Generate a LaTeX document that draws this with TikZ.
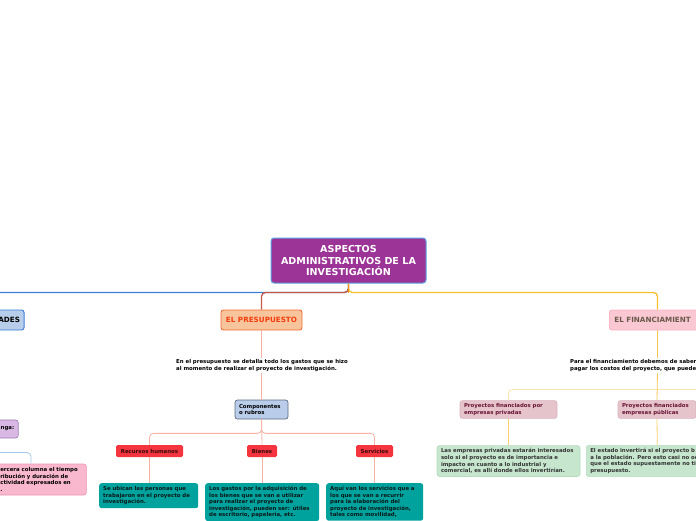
\documentclass[tikz,border=0pt]{standalone}
\usepackage{fontspec}
\setmainfont{DejaVu Sans}
\usetikzlibrary{calc}

\definecolor{rootpurple}{HTML}{9B3496}
\definecolor{rootblue}{HTML}{5BA3E0}
\definecolor{blueln}{HTML}{3B7DD8}
\definecolor{redln}{HTML}{C65A45}
\definecolor{yellowln}{HTML}{F8BF2C}
\definecolor{orangeln}{HTML}{F39A1E}
\definecolor{presfill}{HTML}{F8C49C}
\definecolor{presline}{HTML}{F26C35}
\definecolor{presred}{HTML}{F23D0C}
\definecolor{salmonln}{HTML}{F6B3A3}
\definecolor{compofill}{HTML}{B9CCE9}
\definecolor{compoline}{HTML}{5E6B80}
\definecolor{redfill}{HTML}{F4343F}
\definecolor{redtext}{HTML}{3A0A0A}
\definecolor{tealfill}{HTML}{00A29D}
\definecolor{tealtext}{HTML}{0A1A1A}
\definecolor{finfill}{HTML}{F9C8D3}
\definecolor{finline}{HTML}{F5B5C3}
\definecolor{fintext}{HTML}{6B5A4A}
\definecolor{paleln}{HTML}{FCE4AE}
\definecolor{goldln}{HTML}{F8C654}
\definecolor{provfill}{HTML}{E6C4CC}
\definecolor{provline}{HTML}{D9B2C2}
\definecolor{provtext}{HTML}{6A1534}
\definecolor{greenfill}{HTML}{C6E6CE}
\definecolor{greenline}{HTML}{B5DCC0}
\definecolor{greentext}{HTML}{333333}
\definecolor{purpfill}{HTML}{D9B9E4}
\definecolor{purpline}{HTML}{A07BB7}
\definecolor{pinkfill}{HTML}{F9B8CE}
\definecolor{pinkline}{HTML}{EE94B4}
\definecolor{lightblueln}{HTML}{A8C9EF}
\definecolor{adesfill}{HTML}{B8CDE9}

\begin{document}
\begin{tikzpicture}[x=1pt,y=-1pt,
  small/.style={font=\bfseries\fontsize{5.4}{6.6}\selectfont},
  txt/.style={small,align=left,inner xsep=0pt,inner ysep=1.5pt},
  box/.style={small,rounded corners=2.5pt,align=left,inner xsep=4pt,inner ysep=3pt},
  rootbox/.style={fill=rootpurple,draw=rootblue,line width=1pt,text=white,rounded corners=3pt,
    minimum width=155pt,minimum height=45pt,align=center,font=\bfseries\fontsize{9.6}{11.5}\selectfont},
  headbox/.style={rounded corners=2.5pt,line width=0.9pt,minimum height=20pt,font=\bfseries\fontsize{7.2}{8}\selectfont},
  redbox/.style={small,fill=redfill,text=redtext,rounded corners=1.5pt,minimum height=12pt,inner xsep=3pt},
  tealbox/.style={box,fill=tealfill,text=tealtext},
  provbox/.style={box,fill=provfill,draw=provline,line width=0.6pt,text=provtext,minimum height=17pt},
  greenbox/.style={box,fill=greenfill,draw=greenline,line width=0.6pt,text=greentext,minimum height=30pt},
  conn/.style={line width=0.8pt,rounded corners=4pt},
  trunk/.style={line width=1.3pt,rounded corners=4pt}]
  \useasboundingbox (0,0) rectangle (696,520);
  \clip (0,0) rectangle (696,520);

  % main topic and branches
  \node[rootbox] (root) at (348.5,260.5) {ASPECTOS\\ADMINISTRATIVOS DE LA\\INVESTIGACIÓN};
  \node[headbox,fill=adesfill,draw=blueln,anchor=east,text width=76.5pt,align=right,inner xsep=4pt] (ades) at (24.5,320) {ADES};
  \node[headbox,fill=presfill,draw=presline,text=presred,minimum width=81pt] (presu) at (261.5,320) {EL PRESUPUESTO};
  \node[headbox,fill=finfill,draw=finline,text=fintext,anchor=west,text width=86pt,align=left,inner xsep=5pt] (finan) at (609,320) {EL FINANCIAMIENT};

  \draw[trunk,blueln] (root.south) -- ++(0,9) -| (ades.north);
  \draw[trunk,redln] (root.south) -- ++(0,9) -| (presu.north);
  \draw[trunk,yellowln] (root.south) -- ++(0,9) -| (finan.north);
  \draw[line width=1.3pt,orangeln] (root.south) -- ++(0,9.5);

  % left side (cut off)
  \node[box,fill=purpfill,draw=purpline,line width=0.6pt,anchor=east,text width=50pt,align=right,minimum height=18pt] (tenga) at (18.5,429) {nga:};
  \node[box,fill=pinkfill,draw=pinkline,line width=0.6pt,anchor=west,text width=82pt,minimum height=31pt] (crono) at (-4,479.5) {ercera columna el tiempo\\ribución y duración de\\ctividad expresados en\\.};
  \coordinate (cronoL) at (-10,452.5);
  \draw[conn,lightblueln] (cronoL) -| ($(crono.north west)+(35,0)$);

  % el presupuesto
  \node[txt,anchor=north] (presudesc) at (262,358) {En el presupuesto se detalla todo los gastos que se hizo\\al momento de realizar el proyecto de investigación.};
  \node[box,fill=compofill,draw=compoline,line width=0.7pt,text width=45pt,minimum height=19pt] (compo) at (261.5,409.5) {Componentes\\o rubros};
  \node[redbox,minimum width=67pt] (rh) at (149.5,451) {Recursos humanos};
  \node[redbox,minimum width=30pt] (bienes) at (262,451) {Bienes};
  \node[redbox,minimum width=37pt] (serv) at (374.5,451) {Servicios};
  \node[tealbox,anchor=north west,text width=91pt,minimum height=25pt] (teal1) at (99,483) {Se ubican las personas que\\trabajaron en el proyecto de\\investigación.};
  \node[tealbox,anchor=north west,text width=106pt] (teal2) at (205,483) {Los gastos por la adquisición de\\los bienes que se van a utilizar\\para realizar el proyecto de\\investigación, pueden ser: útiles\\de escritorio, papelería, etc.};
  \node[tealbox,anchor=north west,text width=89pt] (teal3) at (326,483) {Aquí van los servicios que a\\los que se van a recurrir\\para la elaboración del\\proyecto de investigación,\\tales como movilidad,};

  \draw[conn,salmonln] (presu.south) -- (presu.south |- presudesc.north);
  \draw[conn,salmonln] (presu.south |- presudesc.south) -- (compo.north);
  \draw[conn,salmonln] (compo.south) -- ++(0,14) -| (rh.north);
  \draw[conn,salmonln] (compo.south) -- ++(0,14) -| (serv.north);
  \draw[conn,salmonln] (compo.south) -- (bienes.north);
  \foreach \a/\b in {rh/teal1,bienes/teal2,serv/teal3}
    \draw[conn,salmonln] (\a.south) -- (\a.south |- \b.north);

  % el financiamiento
  \node[txt,anchor=north west] (findesc) at (570,358) {Para el financiamiento debemos de saber\\pagar los costos del proyecto, que puede};
  \node[provbox,text width=89pt] (priv) at (508.5,409.5) {Proyectos financiados por\\empresas privadas};
  \node[provbox,text width=70pt] (pub) at (657,409.5) {Proyectos financiados\\empresas públicas};
  \node[greenbox,text width=135pt] (green1) at (508.5,461) {Las empresas privadas estarán interesados\\solo si el proyecto es de importancia e\\impacto en cuanto a lo industrial y\\comercial, es allí donde ellos invertirían.};
  \node[greenbox,anchor=west,text width=134pt] (green2) at (586,461) {El estado invertirá si el proyecto b\\a la población. Pero esto casi no oc\\que el estado supuestamente no ti\\presupuesto.};

  \coordinate (finR) at (720,389.5);
  \draw[conn,paleln] (finR) -| (priv.north);
  \draw[conn,goldln] (finan.south) -- (finan.south |- findesc.north);
  \draw[conn,goldln] (finan.south |- findesc.south) -- (pub.north);
  \draw[conn,goldln!70!paleln] (priv.south) -- (green1.north);
  \draw[conn,goldln!70!paleln] (pub.south) -- (green2.north);
\end{tikzpicture}
\end{document}
